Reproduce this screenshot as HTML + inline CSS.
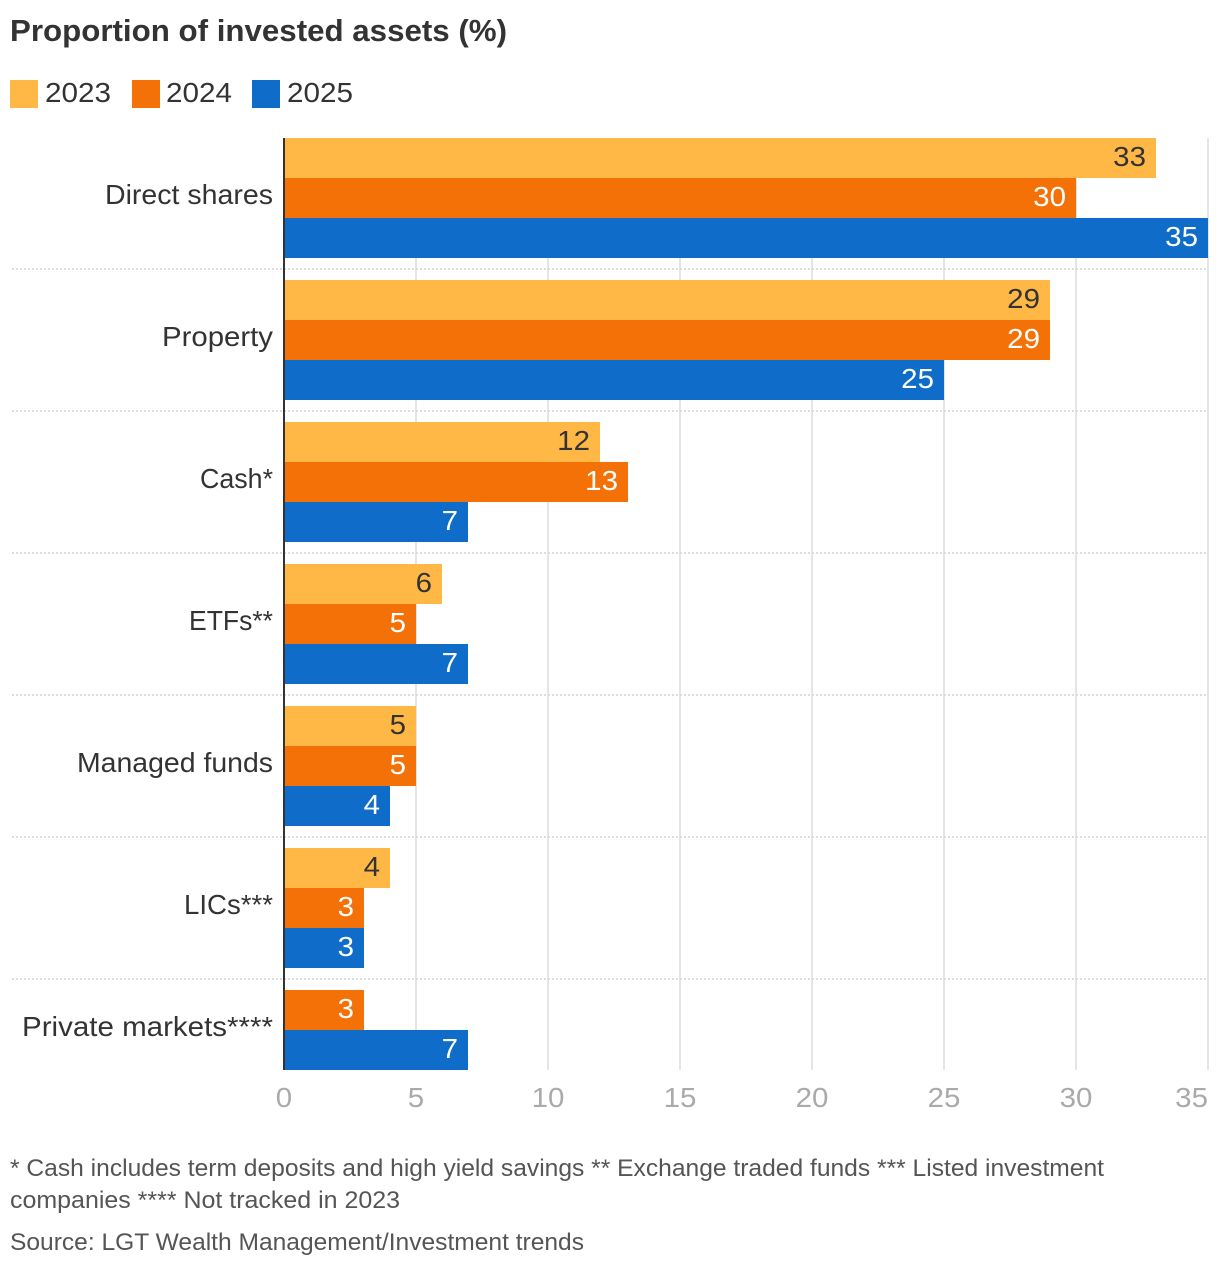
<!DOCTYPE html>
<html lang="en"><head><meta charset="utf-8"><title>Proportion of invested assets</title>
<style>
html,body{margin:0;padding:0;background:#fff}
svg{display:block}
text{font-family:"Liberation Sans",sans-serif}
</style></head>
<body>
<svg id="chart" width="1220" height="1268" viewBox="0 0 1220 1268" xmlns="http://www.w3.org/2000/svg">
<rect width="1220" height="1268" fill="#fff"/>
<text x="10" y="41" font-size="31" font-weight="700" fill="#333" textLength="497" lengthAdjust="spacingAndGlyphs">Proportion of invested assets (%)</text>
<g>
<rect x="10" y="80" width="28" height="28" fill="#ffb845"/>
<text x="45" y="102" font-size="28" fill="#333" textLength="66" lengthAdjust="spacingAndGlyphs">2023</text>
<rect x="132" y="80" width="28" height="28" fill="#f37106"/>
<text x="166" y="102" font-size="28" fill="#333" textLength="66" lengthAdjust="spacingAndGlyphs">2024</text>
<rect x="252" y="80" width="28" height="28" fill="#0f6cc9"/>
<text x="287" y="102" font-size="28" fill="#333" textLength="66" lengthAdjust="spacingAndGlyphs">2025</text>
</g>
<g id="plot"></g>
<text x="10" y="1176" font-size="24" fill="#555" textLength="1094" lengthAdjust="spacingAndGlyphs">* Cash includes term deposits and high yield savings ** Exchange traded funds *** Listed investment</text>
<text x="10" y="1208" font-size="24" fill="#555" textLength="390" lengthAdjust="spacingAndGlyphs">companies **** Not tracked in 2023</text>
<text x="10" y="1250" font-size="24" fill="#555" textLength="574" lengthAdjust="spacingAndGlyphs">Source: LGT Wealth Management/Investment trends</text>
</svg>
<script>
const categories = ["Direct shares", "Property", "Cash*", "ETFs**", "Managed funds", "LICs***", "Private markets****"];
const values2023 = [33, 29, 12, 6, 5, 4, null];
const values2024 = [30, 29, 13, 5, 5, 3, 3];
const values2025 = [35, 25, 7, 7, 4, 3, 7];
const tickValues = [0, 5, 10, 15, 20, 25, 30, 35];

const seriesColors = ["#ffb845", "#f37106", "#0f6cc9"];
const seriesLabelColors = ["#333333", "#ffffff", "#ffffff"];
const seriesNames = ["2023", "2024", "2025"];
const allSeries = [values2023, values2024, values2025];

// Horizontal fit of each category label to the reference typeface, keyed by label text.
const labelFit = {
  "Direct shares": 168, "Property": 111, "Cash*": 73, "ETFs**": 84,
  "Managed funds": 196, "LICs***": 89, "Private markets****": 251
};

const NS = "http://www.w3.org/2000/svg";
const plot = document.getElementById("plot");
const xZero = 284, unitWidth = 26.4, plotTop = 138, plotBottom = 1070;
const barHeight = 40, groupStep = 142, digitWidth = 16.4;
// Positions snap to even pixels, matching the reference's 2x device-pixel layout.
const xScale = v => Math.round((xZero + v * unitWidth) / 2) * 2;
const groupTop = i => plotTop + i * groupStep;

function make(tag, attrs, text) {
  const el = document.createElementNS(NS, tag);
  for (const k in attrs) el.setAttribute(k, attrs[k]);
  if (text !== undefined) el.textContent = text;
  plot.appendChild(el);
  return el;
}
function numberText(v) {
  return {textLength: String(v).length * digitWidth, lengthAdjust: "spacingAndGlyphs"};
}

// vertical gridlines
tickValues.forEach(t => {
  if (t === 0) return;
  const g = make("rect", {x: xScale(t) - 1, y: plotTop, width: 2, height: plotBottom - plotTop, fill: "#e5e5e5"});
  
  
});

// dotted separators and category labels
categories.forEach((c, i) => {
  const present = allSeries.filter(s => s[i] !== null).length;
  const center = groupTop(i) + present * barHeight / 2;
  const lab = make("text", {x: 273, y: center + 6, "text-anchor": "end", "font-size": 28, fill: "#333", textLength: labelFit[c], lengthAdjust: "spacingAndGlyphs"}, c);
  
  
  if (i < categories.length - 1) {
    const y = groupTop(i) + 131;
    const sep = make("line", {x1: 12, x2: 1208, y1: y, y2: y, stroke: "#dcdcdc", "stroke-width": 2, "stroke-dasharray": "2 2"});
    
    
  }
});

// bars and value labels
categories.forEach((c, i) => {
  let slot = 0;
  allSeries.forEach((s, j) => {
    const v = s[i];
    if (v === null) return;
    const y = groupTop(i) + slot * barHeight;
    slot++;
    const bar = make("rect", {x: xZero, y: y, width: xScale(v) - xZero, height: barHeight, fill: seriesColors[j]});
    
    
    const val = make("text", Object.assign({x: xScale(v) - 10, y: y + 28, "text-anchor": "end", "font-size": 28, fill: seriesLabelColors[j]}, numberText(v)), v);
    
    
  });
});

// axis line
const axis = make("rect", {x: xZero - 1, y: plotTop, width: 2, height: plotBottom - plotTop, fill: "#333"});



// x tick labels
tickValues.forEach((t, idx) => {
  const last = idx === tickValues.length - 1;
  const tick = make("text", Object.assign({x: xScale(t), y: 1107, "text-anchor": last ? "end" : "middle", "font-size": 28, fill: "#aaa"}, numberText(t)), t);
  
  
});
</script>
</body></html>
